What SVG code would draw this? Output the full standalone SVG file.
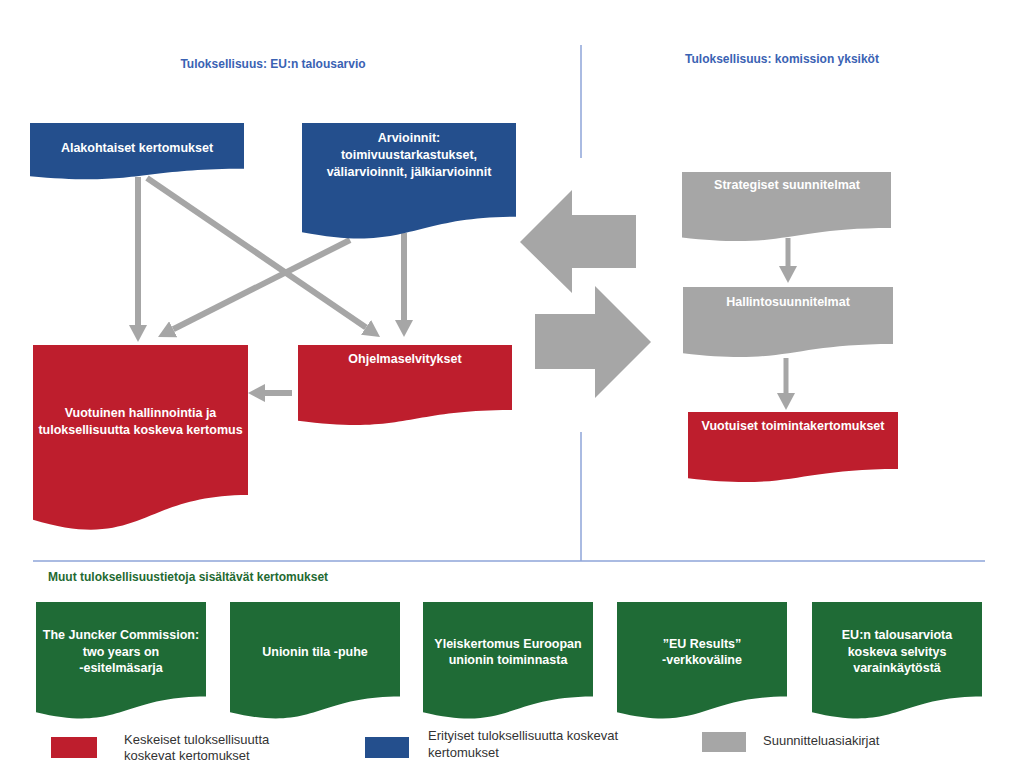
<svg xmlns="http://www.w3.org/2000/svg" width="1024" height="768" viewBox="0 0 1024 768">
<defs>
<style>
.t{font-family:"Liberation Sans",Arial,sans-serif;font-weight:bold;font-size:12.5px;fill:#ffffff;text-anchor:middle}
.h{font-family:"Liberation Sans",Arial,sans-serif;font-weight:bold;font-size:12px;fill:#3a62b3;text-anchor:middle}
.g{font-family:"Liberation Sans",Arial,sans-serif;font-weight:bold;font-size:12px;fill:#1f6a32}
.l{font-family:"Liberation Sans",Arial,sans-serif;font-size:13px;fill:#333333}
.blue{fill:#244f8d}
.red{fill:#be1e2d}
.gray{fill:#a6a6a6}
.green{fill:#1f6b36}
.div{stroke:#8ea5d8;stroke-width:1.5;fill:none}
.c{stroke:#a6a6a6;stroke-width:6;fill:none}
.c5{stroke:#a6a6a6;stroke-width:5;fill:none}
</style>
<marker id="ah" markerUnits="userSpaceOnUse" markerWidth="18" markerHeight="18" refX="0" refY="9" orient="auto">
<path d="M0,0 L17,9 L0,18 Z" fill="#a6a6a6"/>
</marker>
</defs>
<rect width="1024" height="768" fill="#ffffff"/>

<g id="dividers">
<line class="div" x1="581" y1="45" x2="581" y2="158"/>
<line class="div" x1="581" y1="432" x2="581" y2="561"/>
<line class="div" x1="33" y1="561" x2="985" y2="561"/>
</g>

<g id="headings">
<text class="h" x="273" y="68">Tuloksellisuus: EU:n talousarvio</text>
<text class="h" x="782" y="63">Tuloksellisuus: komission yksiköt</text>
<text class="g" x="48" y="581">Muut tuloksellisuustietoja sisältävät kertomukset</text>
</g>

<g id="connectors">
<line class="c" x1="138" y1="177" x2="138" y2="325" marker-end="url(#ah)"/>
<line class="c" x1="147" y1="178" x2="366" y2="327.4" marker-end="url(#ah)"/>
<line class="c" x1="350" y1="240" x2="173.2" y2="329.3" marker-end="url(#ah)"/>
<line class="c" x1="404" y1="233" x2="404" y2="320" marker-end="url(#ah)"/>
<line class="c" x1="292" y1="393" x2="265" y2="393" marker-end="url(#ah)"/>
<line class="c5" x1="788" y1="238" x2="788" y2="266" marker-end="url(#ah)"/>
<line class="c5" x1="786" y1="358" x2="786" y2="393" marker-end="url(#ah)"/>
<polygon class="gray" points="520,242 572,190 572,215 636,215 636,268 572,268 572,293"/>
<polygon class="gray" points="535,314 595,314 595,286 651,342 595,398 595,369 535,369"/>
</g>

<g id="n-alakohtaiset">
<path class="blue" d="M30,123 H244 V168.7 C137,168.7 137,186.1 30,176.2 Z"/>
<text class="t" x="137" y="151.5">Alakohtaiset kertomukset</text>
</g>

<g id="n-arvioinnit">
<path class="blue" d="M302,123 H516 V216.8 C409,216.8 409,252.6 302,232.3 Z"/>
<text class="t" x="409" y="141.5">Arvioinnit:</text>
<text class="t" x="409" y="158.5">toimivuustarkastukset,</text>
<text class="t" x="409" y="175.5">väliarvioinnit, jälkiarvioinnit</text>
</g>

<g id="n-vuotuinen">
<path class="red" d="M33,345 H248 V495 C140.5,495 140.5,552.1 33,519.7 Z"/>
<text class="t" x="140.5" y="416.5">Vuotuinen hallinnointia ja</text>
<text class="t" x="140.5" y="433.5">tuloksellisuutta koskeva kertomus</text>
</g>

<g id="n-ohjelma">
<path class="red" d="M298,345 H512 V410 C405,410 405,434.7 298,420.7 Z"/>
<text class="t" x="405" y="362.5">Ohjelmaselvitykset</text>
</g>

<g id="n-strategiset">
<path class="gray" d="M682,172 H891 V228.1 C786.5,228.1 786.5,249.5 682,237.4 Z"/>
<text class="t" x="787" y="188.5">Strategiset suunnitelmat</text>
</g>

<g id="n-hallinto">
<path class="gray" d="M683,287 H893 V343.9 C788,343.9 788,365.6 683,353.3 Z"/>
<text class="t" x="788" y="305.5">Hallintosuunnitelmat</text>
</g>

<g id="n-toimintakertomukset">
<path class="red" d="M688,412 H898 V468.9 C793,468.9 793,490.6 688,478.3 Z"/>
<text class="t" x="793" y="429.5">Vuotuiset toimintakertomukset</text>
</g>

<g id="n-juncker">
<path class="green" d="M36,602 H206 V696.6 C121,696.6 121,732.7 36,712.2 Z"/>
<text class="t" x="121" y="638.5">The Juncker Commission:</text>
<text class="t" x="121" y="655.5">two years on</text>
<text class="t" x="121" y="671.5">-esitelmäsarja</text>
</g>

<g id="n-unionin-tila">
<path class="green" d="M230,602 H400 V696.6 C315,696.6 315,732.7 230,712.2 Z"/>
<text class="t" x="315" y="655.5">Unionin tila -puhe</text>
</g>

<g id="n-yleiskertomus">
<path class="green" d="M423,602 H593 V696.6 C508,696.6 508,732.7 423,712.2 Z"/>
<text class="t" x="508" y="647.5">Yleiskertomus Euroopan</text>
<text class="t" x="508" y="663.5">unionin toiminnasta</text>
</g>

<g id="n-eu-results">
<path class="green" d="M617,602 H787 V696.6 C702,696.6 702,732.7 617,712.2 Z"/>
<text class="t" x="702" y="647.5">”EU Results”</text>
<text class="t" x="702" y="663.5">-verkkoväline</text>
</g>

<g id="n-selvitys">
<path class="green" d="M812,602 H982 V696.6 C897,696.6 897,732.7 812,712.2 Z"/>
<text class="t" x="897" y="638.5">EU:n talousarviota</text>
<text class="t" x="897" y="655.5">koskeva selvitys</text>
<text class="t" x="897" y="671.5">varainkäytöstä</text>
</g>

<g id="legend">
<rect class="red" x="51" y="737" width="46" height="21"/>
<text class="l" x="124" y="744">Keskeiset tuloksellisuutta</text>
<text class="l" x="124" y="760">koskevat kertomukset</text>
<rect class="blue" x="365" y="737" width="44" height="21"/>
<text class="l" x="428" y="740">Erityiset tuloksellisuutta koskevat</text>
<text class="l" x="428" y="757">kertomukset</text>
<rect class="gray" x="702" y="732" width="44" height="20"/>
<text class="l" x="763" y="745">Suunnitteluasiakirjat</text>
</g>
</svg>
